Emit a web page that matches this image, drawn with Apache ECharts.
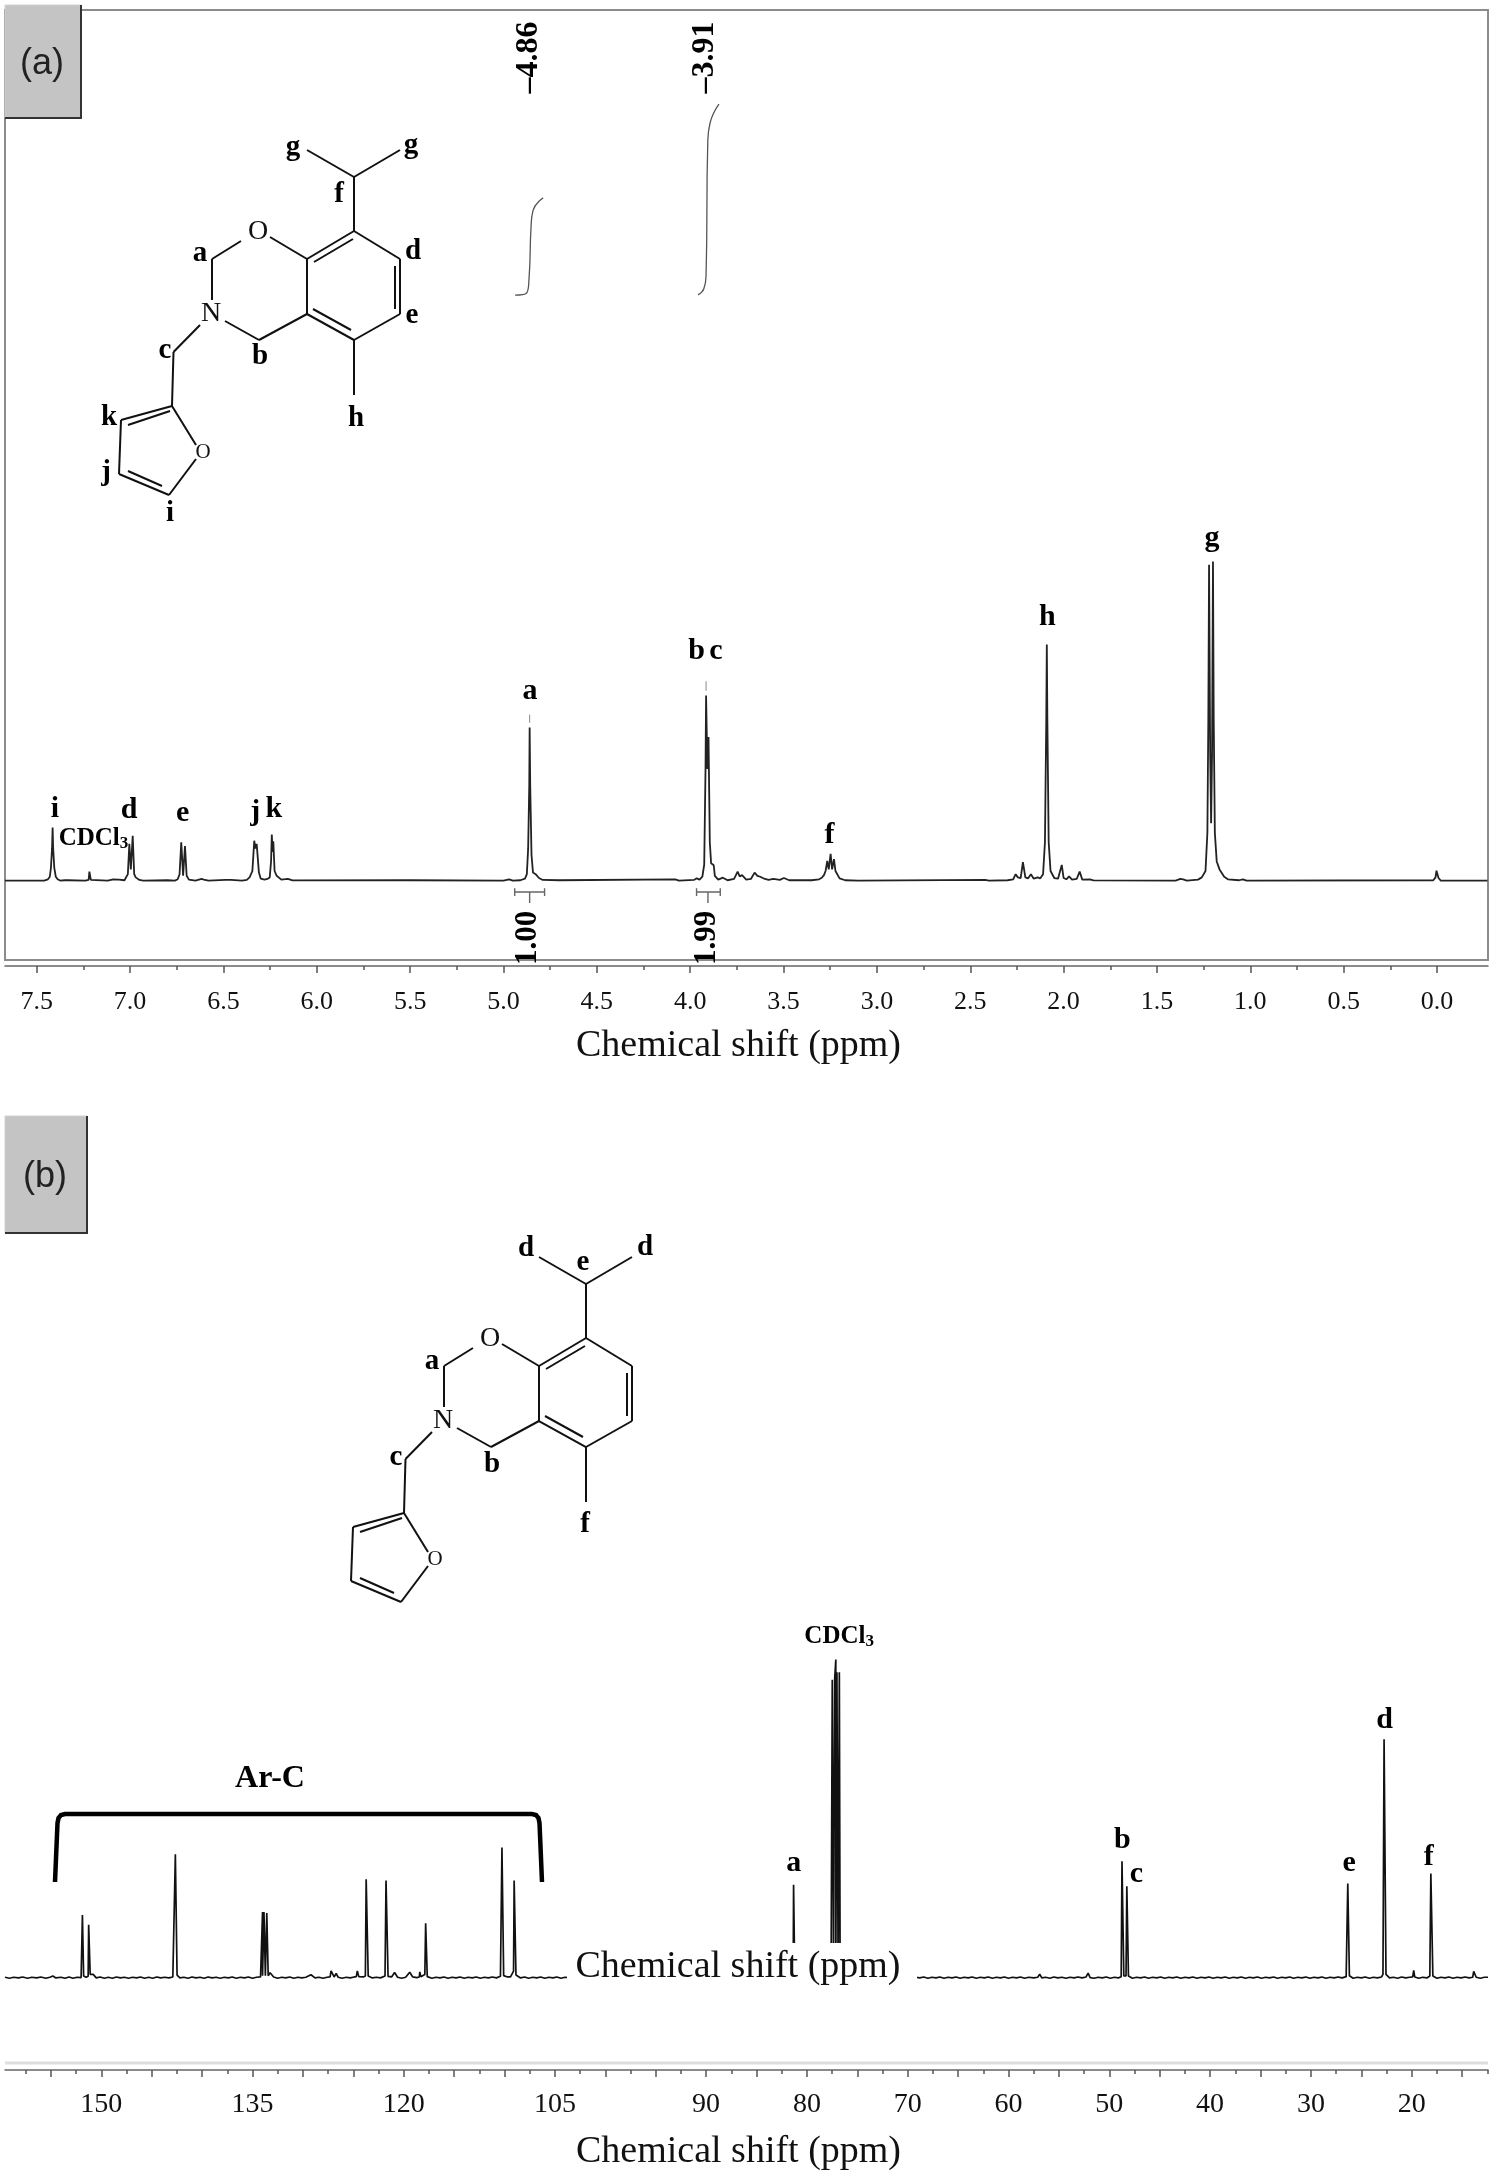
<!DOCTYPE html>
<html>
<head>
<meta charset="utf-8">
<title>NMR spectra</title>
<script src="https://cdn.jsdelivr.net/npm/echarts@6/dist/echarts.min.js"></script>
<style>
  html, body { margin: 0; padding: 0; background: #fff; }
  #chart { width: 1494px; height: 2172px; }
</style>
</head>
<body>
<div id="chart"></div>
<script>
// values: [ppm, intensity], tallest peak of each spectrum = 100
const protonSpectrum = [
  [7.67,0],[7.46,0],[7.44,.4],[7.43,1.2],[7.424,4],[7.418,10],[7.415,16.6],[7.412,10],[7.406,4],[7.398,1.2],[7.388,.4],[7.375,0],
  [7.35,.1],[7.343,.5],[7.335,.1],[7.24,0],[7.222,.2],[7.218,2.8],[7.214,2.8],[7.21,.2],[7.12,0],[7.09,.4],[7.06,.3],[7.03,.1],
  [7.02,.4],[7.012,2],[7.004,11.5],[6.996,3.5],[6.986,14],[6.978,2],[6.97,1],[6.965,1],[6.95,.2],[6.93,0],[6.8,.1],[6.76,0],
  [6.745,.4],[6.735,2],[6.726,12],[6.716,1.5],[6.706,10.8],[6.697,1.5],[6.685,.3],[6.65,0],[6.617,.5],[6.605,.3],[6.595,.5],[6.58,0],
  [6.49,.2],[6.46,.2],[6.4,0],[6.375,.2],[6.36,1],[6.345,3],[6.335,12.5],[6.328,10],[6.322,11.5],[6.31,2.5],[6.3,.6],[6.28,.3],
  [6.265,.5],[6.252,1],[6.245,6],[6.241,14.4],[6.237,9],[6.233,12.3],[6.226,3],[6.215,1.5],[6.205,.9],[6.19,.3],[6.155,.5],[6.13,.05],
  [5.5,.1],[5.0,0],[4.97,.4],[4.95,0],[4.91,.1],[4.885,.6],[4.875,2],[4.868,10],[4.862,30],[4.86,48],[4.857,30],[4.85,8],[4.842,2.5],
  [4.834,2.8],[4.828,2],[4.82,2.6],[4.81,.8],[4.79,.2],[4.7,.1],[4.08,.4],[4.06,0],[3.98,.2],[3.965,.7],[3.95,.3],[3.935,1.2],
  [3.925,5],[3.918,35],[3.915,58],[3.908,35],[3.902,45],[3.895,12],[3.888,5.4],[3.882,5.2],[3.874,4.8],[3.868,1.5],[3.85,.3],[3.825,.9],
  [3.8,.1],[3.765,.5],[3.746,2.8],[3.735,1.3],[3.722,1.7],[3.7,.3],[3.675,.5],[3.655,2.5],[3.64,1.5],[3.625,1.2],[3.6,.5],[3.58,.2],
  [3.555,.5],[3.52,.2],[3.498,.8],[3.47,.1],[3.35,.1],[3.31,.4],[3.295,.9],[3.283,1.8],[3.275,3],[3.266,6.2],[3.258,3.5],[3.248,8.4],
  [3.24,3.5],[3.23,6.7],[3.222,3],[3.213,2.8],[3.2,.7],[3.17,.1],[3.1,0],[2.42,.2],[2.4,0],[2.3,.1],[2.27,.4],[2.257,2],[2.245,1],
  [2.23,.8],[2.218,5.8],[2.205,1],[2.19,.7],[2.175,2],[2.16,.6],[2.139,1],[2.125,.7],[2.11,2],[2.1,12],[2.093,50],[2.09,74],[2.087,50],
  [2.08,12],[2.07,3],[2.05,.8],[2.03,.6],[2.01,4.9],[2.0,.8],[1.985,.4],[1.971,1.3],[1.955,.3],[1.93,.5],[1.914,2.8],[1.9,.3],[1.86,.4],
  [1.84,.05],[1.4,0],[1.375,.5],[1.36,.4],[1.34,0],[1.28,.3],[1.26,1],[1.24,3],[1.23,15],[1.225,50],[1.221,99],[1.215,40],[1.21,18],
  [1.205,40],[1.2,100],[1.196,50],[1.19,15],[1.18,6],[1.165,3.5],[1.155,3],[1.14,1.2],[1.12,.4],[1.06,.1],[1.05,.5],[1.04,.4],[1.02,0],
  [.02,.1],[.008,1],[.003,3.1],[-.003,3.1],[-.008,.8],[-.02,0],[-.27,0]
]

const carbonSpectrum = [
  [159.55,.1],[159.1,-.2],[158.7,.1],[158.2,-.1],[157.8,.2],[157.3,-.2],[156.9,.1],[156.4,-.1],[156,.2],[155.5,-.2],[155.1,.1],[154.8,.5],[154.5,-.1],[154,.1],[153.6,-.2],[153.2,.2],[152.8,-.2],[152.4,.1],[152,0],
  [151.93,.5],[151.87,19.7],[151.8,19.7],[151.75,.5],[151.5,.1],[151.3,.4],[151.25,16.6],[151.18,16.6],[151.1,1],[150.8,1],[150.5,-.1],[150.1,.2],[149.7,-.2],[149.3,.1],[148.9,-.2],[148.5,.2],[148.1,-.1],[147.7,.1],[147.3,-.2],
  [146.9,.1],[146.5,-.1],[146.1,.2],[145.7,-.2],[145.3,.1],[144.9,-.2],[144.5,.2],[144.1,-.1],[143.7,.1],[143.3,-.1],[142.9,.2],[142.72,.6],[142.65,38.8],[142.55,38.8],[142.48,.8],[142.2,-.1],
  [141.8,.1],[141.4,-.2],[141,.2],[140.6,-.1],[140.2,.1],[139.8,-.2],[139.4,.2],[139,-.1],[138.6,.1],[138.2,-.2],[137.8,.1],[137.4,-.1],[137,.2],[136.6,-.2],[136.2,.1],[135.8,-.1],[135.4,.2],[135,-.2],[134.6,.1],[134.2,.2],
  [134.06,.6],[134,20.6],[134,.6],[133.86,.6],[133.86,20.6],[133.72,20.4],[133.72,.6],[133.58,.6],[133.58,20.3],[133.44,20.3],[133.44,.6],[133.25,1.5],[133.1,1.9],[132.9,.2],[132.5,-.2],[132.1,.1],[131.7,-.1],[131.3,.2],[130.9,-.2],[130.5,.1],[130.1,-.1],[129.7,.1],[129.2,.9],[128.8,-.1],
  [128.4,.1],[128,-.2],[127.6,.1],[127.3,.2],[127.2,2.1],[127.1,2.1],[126.9,.2],[126.7,1.3],[126.5,.1],[126.1,-.2],[125.7,.1],[125.3,-.1],[124.9,.2],[124.7,.3],[124.6,2.1],[124.45,.3],[124,.2],[123.8,.5],
  [123.72,30.9],[123.62,30.9],[123.52,.5],[123.1,-.1],[122.7,.1],[122.3,-.1],[121.85,.5],[121.75,30.5],[121.65,30.5],[121.55,.4],[121.2,.2],[120.9,1.6],[120.6,.1],[120.2,-.2],[119.8,.1],[119.4,1.7],
  [119.1,.2],[118.7,0],[118.45,.2],[118.4,1.8],[118.3,.3],[117.9,1],[117.82,17.1],[117.74,17.1],[117.66,.3],[117.2,-.2],[116.8,.1],[116.4,-.1],[116,.2],[115.6,-.2],[115.2,.1],[114.8,-.1],[114.4,.2],[114,-.2],[113.6,.1],
  [113.2,-.1],[112.8,.2],[112.4,-.2],[112,.1],[111.6,-.1],[111.2,.2],[110.8,-.1],[110.4,.4],[110.3,.6],[110.25,40.9],[110.15,40.9],[110.08,.6],[109.7,.2],[109.4,.2],[109.1,2],[109.04,30.5],[108.96,30.5],[108.86,.8],
  [108.4,-.1],[108,.2],[107.6,-.2],[107.2,.1],[106.8,-.1],[106.4,.2],[106,-.2],[105.6,.1],[105.2,-.1],[104.8,.2],[104.4,-.2],[104,.1],[103.4,-.1],[100,.1],
  [82,0],[81.36,.5],[81.32,29.2],[81.28,29.2],[81.2,.5],[78,0],[77.6,.5],
  [77.48,.5],[77.48,93.6],[77.36,93.6],[77.36,.5],[77.24,.5],[77.24,94],[77.13,100],[77.13,.5],[77.02,.5],[77.02,96],[76.9,96],[76.9,.5],[76.78,.5],[76.78,96],[76.7,96],[76.7,.5],[76.6,.5],[75,0],
  [70,.1],[69.6,-.2],[69.2,.1],[68.8,-.1],[68.4,.2],[68,-.2],[67.6,.1],[67.2,-.1],[66.8,.2],[66.4,-.2],[66,.1],[65.6,-.1],[65.2,.2],[64.8,-.2],[64.4,.1],[64,-.1],[63.6,.2],[63.2,-.2],[62.8,.1],[62.4,-.1],[62,.2],[61.6,-.2],[61.2,.1],[60.8,-.1],[60.4,.2],[60,-.2],[59.6,.1],[59.2,-.1],[58.8,.2],
  [58.4,-.2],[58,.1],[57.5,-.1],[57.1,.1],[56.9,1.1],[56.7,-.1],[56.3,.1],[55.9,-.2],[55.5,.2],[55.1,-.1],[54.7,.1],[54.3,-.2],[53.9,.1],[53.5,-.1],[53.1,.2],[52.7,-.1],[52.3,.2],[52.1,1.4],[51.9,0],[51.5,-.2],[51.1,.1],[50.7,-.1],[50.3,.2],[49.9,-.2],[49.5,.1],[49.1,-.1],[48.82,.3],
  [48.74,36.6],[48.66,36.6],[48.56,.5],[48.34,.5],[48.26,28.7],[48.2,28.7],[48.1,.5],[47.7,-.2],[47.3,.1],[46.9,-.1],[46.5,.2],[46.1,-.2],[45.7,.1],[45.3,-.1],[44.9,.2],[44.5,-.2],[44.1,.1],[43.7,-.1],[43.3,.2],[42.9,-.2],
  [42.5,.1],[42.1,-.1],[41.7,.2],[41.3,-.2],[40.9,.1],[40.5,-.1],[40.1,.2],[39.7,-.2],[39.3,.1],[38.9,-.1],[38.5,.2],[38.1,-.2],[37.7,.1],[37.3,-.1],[36.9,.2],[36.5,-.2],[36.1,.1],[35.7,-.1],[35.3,.2],[34.9,-.2],[34.5,.1],[34.1,-.1],[33.7,.2],[33.3,-.2],[32.9,.1],[32.5,-.1],[32.1,.2],[31.7,-.2],[31.3,.1],[30.9,-.1],
  [30.5,.2],[30.1,-.2],[29.7,.1],[29.3,-.1],[28.9,.2],[28.5,-.2],[28.1,.1],[27.7,-.1],[27.3,.2],[26.9,-.1],[26.5,.3],[26.42,.6],[26.34,29.6],[26.26,29.6],[26.18,.6],[25.8,-.2],[25.4,.1],[25,-.1],[24.6,.2],[24.2,-.2],[23.8,.1],[23.4,-.1],[23,.2],[22.85,1],
  [22.74,74.9],[22.66,74.9],[22.55,1],[22.2,-.1],[21.8,.1],[21.4,-.2],[21,.2],[20.6,-.1],[20.2,.1],[19.9,.2],[19.8,2.3],[19.7,.2],[19.3,-.2],[18.9,.1],[18.5,-.1],[18.2,.5],[18.1,32.7],[18,32.7],[17.9,.5],
  [17.5,-.2],[17.1,.1],[16.7,-.1],[16.3,.2],[15.9,-.2],[15.5,.1],[15.1,-.1],[14.7,.2],[14.3,-.1],[13.95,.1],[13.85,1.95],[13.75,1.95],[13.6,.1],[13.2,-.2],[12.8,.1],[12.43,.1]
]

// integral curves and integration brackets of the 1H spectrum
const integralA = [[4.938,183.5],[4.879,184],[4.863,189],[4.853,204.3],[4.842,210],[4.788,214]]
const integralB = [[3.958,183.6],[3.927,185.5],[3.915,190],[3.906,231.2],[3.894,237.4],[3.846,243.4]]
const bracketA = [[4.94,-2.4],[4.94,-4.8],[4.94,-3.6],[4.78,-3.6],[4.78,-2.4],[4.78,-4.8],[4.78,-3.6],[4.86,-3.6],[4.86,-7]]
const bracketB = [[3.966,-2.4],[3.966,-4.8],[3.966,-3.6],[3.839,-3.6],[3.839,-2.4],[3.839,-4.8],[3.839,-3.6],[3.905,-3.6],[3.905,-7]]
const pickMarkA = [[4.86,49.5],[4.86,52]]
const pickMarkB = [[3.915,59.5],[3.915,62.5]]

// [text, ppm, intensity]
const protonLabels = [
  ['i',7.402,22.4],['d',7.006,22.1],['e',6.718,21.2],['j',6.33,21.5],['k',6.23,22.4],['a',4.858,59.4],
  ['b',3.966,72],['c',3.862,72],['f',3.254,14.3],['h',2.087,82.4],['g',1.205,107.2]
]
const protonSolvent = ['CDCl', 7.196, 13.3]
const protonPicks = [['–4.86',4.863,258],['–3.91',3.92,258]]
const protonIntegrals = [['1.00',4.869,-18],['1.99',3.91,-18]]
const carbonLabels = [
  ['a',81.3,35.8],['b',48.7,43.2],['c',47.3,32.5],['e',26.2,35.8],['d',22.7,81],['f',18.3,37.8]
]
const carbonSolvent = ['CDCl', 76.8, 107.3]

const protonMajorTicks = [0,.5,1,1.5,2,2.5,3,3.5,4,4.5,5,5.5,6,6.5,7,7.5]
const protonMinorTicks = [.25,.75,1.25,1.75,2.25,2.75,3.25,3.75,4.25,4.75,5.25,5.75,6.25,6.75,7.25]
const carbonTickLabels = [150,135,120,105,90,80,70,60,50,40,30,20]
const carbonMajorTicks = [15,20,25,30,35,40,45,50,55,60,65,70,75,80,85,90,95,100,105,110,115,120,125,130,135,140,145,150,155]
const carbonMinorTicks = [12.5,17.5,22.5,27.5,32.5,37.5,42.5,47.5,52.5,57.5,62.5,67.5,72.5,77.5,82.5,87.5,92.5,97.5,102.5,107.5,112.5,117.5,122.5,127.5,132.5,137.5,142.5,147.5,152.5,157.5]

const SERIF = '"Liberation Serif", serif'
const AXIS_NAME = 'Chemical shift (ppm)'

function textSeries(name, xAxisIndex, yAxisIndex, rows, labelStyle) {
  return {
    name,
    type: 'scatter',
    xAxisIndex,
    yAxisIndex,
    symbolSize: 0,
    silent: true,
    z: 5,
    itemStyle: { opacity: 1 },
    label: Object.assign({
      show: true,
      position: 'inside',
      formatter: p => p.name,
      fontFamily: SERIF,
      fontWeight: 'bold',
      fontSize: 30,
      color: '#000'
    }, labelStyle),
    data: rows.map(r => ({ name: r[0], value: [r[1], r[2]] }))
  }
}

function traceSeries(name, xAxisIndex, yAxisIndex, data, color, width, smooth) {
  return {
    name,
    type: 'line',
    xAxisIndex,
    yAxisIndex,
    showSymbol: false,
    silent: true,
    smooth: !!smooth,
    data,
    lineStyle: { color, width }
  }
}

const solventLabel = {
  fontSize: 25,
  formatter: '{m|CDCl}{s|3}',
  rich: {
    m: { fontFamily: SERIF, fontWeight: 'bold', fontSize: 25, color: '#000' },
    s: { fontFamily: SERIF, fontWeight: 'bold', fontSize: 17, color: '#000', padding: [10, 0, 0, 0] }
  }
}

function majorAxis(gridIndex, min, max, ticks, labels, offset, nameGap, fontSize, margin) {
  return {
    type: 'value',
    gridIndex,
    position: 'bottom',
    inverse: true,
    min,
    max,
    offset,
    name: AXIS_NAME,
    nameLocation: 'middle',
    nameGap,
    nameTextStyle: { fontFamily: SERIF, fontSize: 38, color: '#111', padding: [0, 16, 0, 0] },
    axisLine: { onZero: false, lineStyle: { color: '#666', width: 1.5 } },
    axisTick: { show: true, length: 7, customValues: ticks, lineStyle: { color: '#555', width: 1.5 } },
    axisLabel: {
      customValues: labels,
      margin,
      fontFamily: SERIF,
      fontSize,
      color: '#111',
      hideOverlap: false,
      formatter: v => (gridIndex === 0 ? v.toFixed(1) : String(v))
    },
    splitLine: { show: false }
  }
}

function minorAxis(gridIndex, min, max, ticks, offset) {
  return {
    type: 'value',
    gridIndex,
    position: 'bottom',
    inverse: true,
    min,
    max,
    offset,
    axisLine: { show: false, onZero: false },
    axisTick: { show: true, length: 4, customValues: ticks, lineStyle: { color: '#555', width: 1.5 } },
    axisLabel: { show: false },
    splitLine: { show: false }
  }
}

// the structure is an illustration, so it is sketched in page pixels; panel (b) reuses it with an offset
const moleculeBonds = [
  [354,231,400,259],[400,259,400,314],[400,314,354,340],[354,340,307,314],[307,314,307,259],[307,259,354,231],
  [353,239,314,262],[395,266,395,309],[351,330,313,309],
  [354,231,354,177],[354,177,307,150],[354,177,400,150],[354,340,354,395],
  [307,259,270,237],[241,241,212,259],[212,259,212,300],[225,321,259,340],[259,340,307,314],
  [200,325,173.5,352],[173.5,352,172,406],
  [172,406,121,420],[121,420,119,474],[119,474,169,495],[172,406,196,445],[196,459,169,495],
  [170,411,128,425],[128,471,162,486]
]
const moleculeAtoms = [['O',258,232,28],['N',211,314,28],['o',203,452,21]]
const moleculeLabelsA = [
  ['g',293,148],['g',411,146],['f',339,195],['d',413,252],['a',200,254],['e',412,316],
  ['c',165,351],['b',260,357],['h',356,419],['k',109,418],['j',106,473],['i',170,514]
]
const moleculeLabelsB = [
  ['d',526,1249],['d',645,1248],['e',583,1263],['a',432,1362],['c',396,1458],['b',492,1465],['f',585,1525]
]

function pageText(text, x, y, font, fill) {
  return { type: 'text', z: 12, style: { text, x, y, font, fill: fill || '#000', align: 'center', verticalAlign: 'middle' } }
}

function molecule(dx, dy) {
  const items = moleculeBonds.map(b => ({
    type: 'line',
    z: 11,
    shape: { x1: b[0] + dx, y1: b[1] + dy, x2: b[2] + dx, y2: b[3] + dy },
    style: { stroke: '#111', lineWidth: 2 }
  }))
  moleculeAtoms.forEach(a => {
    items.push(pageText(a[0] === 'o' ? 'O' : a[0], a[1] + dx, a[2] + dy, a[3] + 'px ' + SERIF, '#111'))
  })
  return items
}

function panelBox(x, y, w, h, text) {
  return [
    { type: 'rect', z: 11, shape: { x, y, width: w, height: h }, style: { fill: '#c4c4c4', stroke: '#d0d0d0', lineWidth: 1 } },
    { type: 'polyline', z: 11, shape: { points: [[x + w, y], [x + w, y + h], [x, y + h]] }, style: { stroke: '#333', lineWidth: 2, fill: null } },
    pageText(text, x + w / 2 - 1, y + h / 2 + 3, '36px "Liberation Sans", sans-serif', '#222')
  ]
}

const graphics = [].concat(
  panelBox(5, 5, 76, 113, '(a)'),
  panelBox(5, 1116, 82, 117, '(b)'),
  molecule(0, 0),
  molecule(232, 1107),
  moleculeLabelsA.map(l => pageText(l[0], l[1], l[2], 'bold 29px ' + SERIF)),
  moleculeLabelsB.map(l => pageText(l[0], l[1], l[2], 'bold 29px ' + SERIF)),
  [
    // light rule above the lower axis
    { type: 'line', z: 1, shape: { x1: 5, y1: 2063, x2: 1488, y2: 2063 }, style: { stroke: '#dedede', lineWidth: 3 } },
    // the Ar-C bracket
    {
      type: 'polyline',
      z: 11,
      shape: { points: [[55,1882],[57.5,1823],[58.5,1818],[61,1815],[65,1814],[532,1814],[536,1815],[538.5,1818],[539.5,1823],[542,1882]] },
      style: { stroke: '#000', lineWidth: 4.5, fill: null }
    },
    pageText('Ar-C', 270, 1779, 'bold 32px ' + SERIF),
    // the stray axis title sits on a white patch over the 13C trace
    { type: 'rect', z: 11, shape: { x: 567, y: 1943, width: 350, height: 60 }, style: { fill: '#fff' } },
    pageText(AXIS_NAME, 738, 1967, '38px ' + SERIF, '#111')
  ]
)

const option = {
  animation: false,
  backgroundColor: '#fff',
  grid: [
    { left: 5, top: 10, width: 1483, height: 950, show: true, borderColor: '#8c8c8c', borderWidth: 2, backgroundColor: 'transparent' },
    { left: 5, top: 1600, width: 1483, height: 463, show: false }
  ],
  xAxis: [
    majorAxis(0, -0.273, 7.67, protonMajorTicks, protonMajorTicks, 6, 61, 26, 23),
    minorAxis(0, -0.273, 7.67, protonMinorTicks, 6),
    majorAxis(1, 12.43, 159.55, carbonMajorTicks, carbonTickLabels, 7, 63, 28, 21),
    minorAxis(1, 12.43, 159.55, carbonMinorTicks, 7)
  ],
  yAxis: [
    { type: 'value', gridIndex: 0, min: -24.9, max: 272.9, show: false },
    { type: 'value', gridIndex: 1, min: -26.85, max: 118.7, show: false }
  ],
  series: [
    traceSeries('1H NMR', 0, 0, protonSpectrum, '#222', 1.8),
    traceSeries('integral 4.86', 0, 0, integralA, '#555', 1.3, true),
    traceSeries('integral 3.91', 0, 0, integralB, '#555', 1.3, true),
    traceSeries('bracket 1.00', 0, 0, bracketA, '#666', 1.4),
    traceSeries('bracket 1.99', 0, 0, bracketB, '#666', 1.4),
    traceSeries('pick 4.86', 0, 0, pickMarkA, '#888', 1),
    traceSeries('pick 3.91', 0, 0, pickMarkB, '#888', 1),
    textSeries('1H peak labels', 0, 0, protonLabels, {}),
    textSeries('1H solvent', 0, 0, [protonSolvent], solventLabel),
    textSeries('1H picks', 0, 0, protonPicks, { rotate: 90, fontSize: 32 }),
    textSeries('1H integrals', 0, 0, protonIntegrals, { rotate: 90, fontSize: 31 }),
    traceSeries('13C NMR', 2, 1, carbonSpectrum, '#111', 1.7),
    textSeries('13C peak labels', 2, 1, carbonLabels, {}),
    textSeries('13C solvent', 2, 1, [carbonSolvent], solventLabel)
  ],
  graphic: { elements: graphics }
}

const chart = echarts.init(document.getElementById('chart'), null, { renderer: 'canvas' })
chart.setOption(option)
</script>
</body>
</html>
